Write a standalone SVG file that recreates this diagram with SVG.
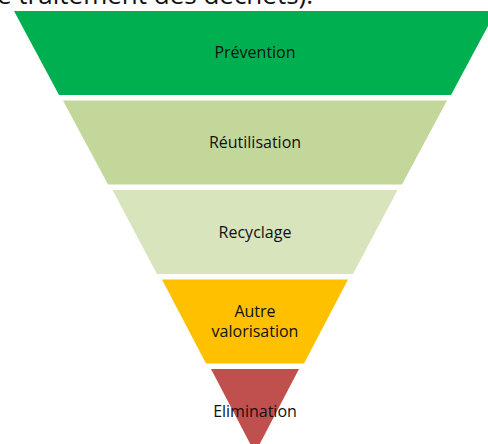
<svg xmlns="http://www.w3.org/2000/svg" width="488" height="444" viewBox="0 0 488 444">
<style>
.lbl{font-family:"Open Sans","Noto Sans","Liberation Sans",sans-serif;font-size:16px;fill:#111;text-anchor:middle}
.hdr{font-family:"Open Sans","Noto Sans","Liberation Sans",sans-serif;font-size:26px;fill:#111}
</style>
<rect width="488" height="444" fill="#fff"/>
<text class="hdr" x="-3" y="3.5">e traitement des déchets).</text>
<g id="prevention">
<polygon points="14,11 496,11 451,95 59,95" fill="#00B050"/>
<text class="lbl" x="255" y="58">Prévention</text>
</g>
<g id="reutilisation">
<polygon points="63,100.5 447,100.5 402,184.5 108,184.5" fill="#C4D79B"/>
<text class="lbl" x="255" y="148">Réutilisation</text>
</g>
<g id="recyclage">
<polygon points="112.5,190 397.5,190 353,274 157,274" fill="#D8E4BC"/>
<text class="lbl" x="255" y="238">Recyclage</text>
</g>
<g id="autre-valorisation">
<polygon points="162,279.5 348,279.5 304,363.5 206,363.5" fill="#FFC000"/>
<text class="lbl" x="255" y="317">Autre</text>
<text class="lbl" x="255" y="337">valorisation</text>
</g>
<g id="elimination">
<polygon points="211,369 299,369 255,453" fill="#C0504D"/>
<text class="lbl" x="255" y="417">Elimination</text>
</g>
<g id="connectors"/>
</svg>
